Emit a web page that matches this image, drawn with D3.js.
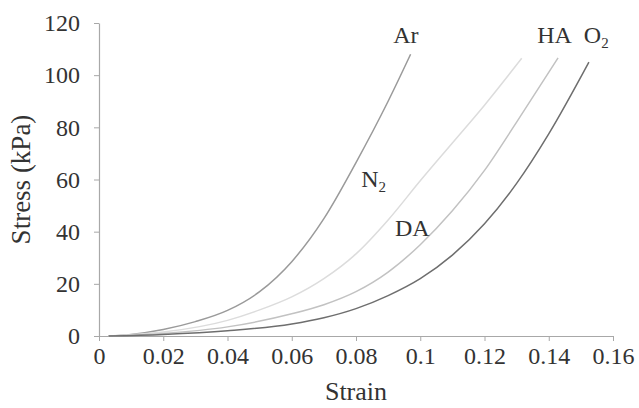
<!DOCTYPE html>
<html>
<head>
<meta charset="utf-8">
<script src="https://cdn.jsdelivr.net/npm/d3@7"></script>
<style>
  body { margin: 0; background: #fff; }
  svg text { font-family: "Times New Roman", "Liberation Serif", Times, serif; fill: #333; }
</style>
</head>
<body>
<div id="chart"></div>
<script>
// strain / stress pairs
const arData = [[0.003, 0], [0.01, 0.6], [0.02, 2.5], [0.03, 5.5], [0.04, 9.8], [0.05, 17], [0.06, 28.5], [0.07, 45], [0.08, 66.5], [0.09, 90], [0.097, 108]];
const n2Data = [[0.003, 0], [0.02, 1.5], [0.04, 6], [0.05, 10], [0.06, 15], [0.07, 22], [0.08, 31.5], [0.09, 44.5], [0.1, 59.5], [0.11, 74], [0.12, 88.5], [0.1316, 106.5]];
const haData = [[0.003, 0], [0.02, 1], [0.04, 3.5], [0.06, 8.5], [0.07, 12], [0.08, 17], [0.09, 24.5], [0.1, 35], [0.11, 48], [0.12, 63.5], [0.13, 82], [0.1429, 106.6]];
const o2Data = [[0.003, 0], [0.02, 0.6], [0.04, 2], [0.06, 4.6], [0.07, 7], [0.08, 10.5], [0.09, 15.5], [0.1, 22], [0.11, 31], [0.12, 43], [0.13, 58.5], [0.14, 77.5], [0.1525, 105]];

const xTicks = [0, 0.02, 0.04, 0.06, 0.08, 0.1, 0.12, 0.14, 0.16];
const yTicks = [0, 20, 40, 60, 80, 100, 120];

const series = [
  { name: 'Ar', values: arData, color: '#9a9a9a' },
  { name: 'N2', values: n2Data, color: '#dcdcdc' },
  { name: 'HA', values: haData, color: '#c2c2c2' },
  { name: 'O2', values: o2Data, color: '#6e6e6e' }
];

// curve labels: [main, subscript, strain, stress]
const labels = [
  ['Ar', '', 0.0955, 112.5],
  ['HA', '', 0.1418, 112.5],
  ['O', '2', 0.1548, 112.5],
  ['N', '2', 0.0855, 57],
  ['DA', '', 0.0975, 38.5]
];

const width = 639, height = 408;
const margin = { left: 99, right: 26, top: 23, bottom: 72 };

const svg = d3.select('#chart').append('svg')
  .attr('width', width)
  .attr('height', height);

const x = d3.scaleLinear().domain([0, 0.16]).range([margin.left, width - margin.right]);
const y = d3.scaleLinear().domain([0, 120]).range([height - margin.bottom, margin.top]);

const xAxis = d3.axisBottom(x).tickValues(xTicks).tickSize(5).tickSizeOuter(0).tickPadding(6)
  .tickFormat(d => String(+d.toFixed(2)));
const yAxis = d3.axisLeft(y).tickValues(yTicks).tickSize(5).tickSizeOuter(0).tickPadding(14);

const gx = svg.append('g').attr('transform', `translate(0,${height - margin.bottom})`).call(xAxis);
const gy = svg.append('g').attr('transform', `translate(${margin.left},0)`).call(yAxis);

[gx, gy].forEach(g => {
  g.attr('font-family', null);
  g.select('.domain').attr('stroke', '#a8a8a8').attr('stroke-width', 1.2);
  g.selectAll('.tick line').attr('stroke', '#a8a8a8');
  g.selectAll('.tick text')
    .attr('font-size', 24)
    .attr('fill', '#333');
});

const line = d3.line()
  .x(d => x(d[0]))
  .y(d => y(d[1]))
  .curve(d3.curveMonotoneX);

svg.selectAll('path.curve')
  .data(series)
  .enter()
  .append('path')
  .attr('class', 'curve')
  .attr('fill', 'none')
  .attr('stroke', d => d.color)
  .attr('stroke-width', 1.5)
  .attr('d', d => line(d.values));

const lab = svg.selectAll('text.lab')
  .data(labels)
  .enter()
  .append('text')
  .attr('class', 'lab')
  .attr('x', d => x(d[2]))
  .attr('y', d => y(d[3]))
  .attr('text-anchor', 'middle')
  .attr('font-size', 24);
lab.append('tspan').text(d => d[0]);
lab.append('tspan')
  .attr('font-size', 15)
  .attr('dy', 5)
  .text(d => d[1]);

svg.append('text')
  .attr('x', (margin.left + width - margin.right) / 2)
  .attr('y', 400)
  .attr('text-anchor', 'middle')
  .attr('font-size', 26)
  .text('Strain');

svg.append('text')
  .attr('transform', `translate(30,${(margin.top + height - margin.bottom) / 2}) rotate(-90)`)
  .attr('text-anchor', 'middle')
  .attr('font-size', 27)
  .text('Stress (kPa)');
</script>
</body>
</html>
